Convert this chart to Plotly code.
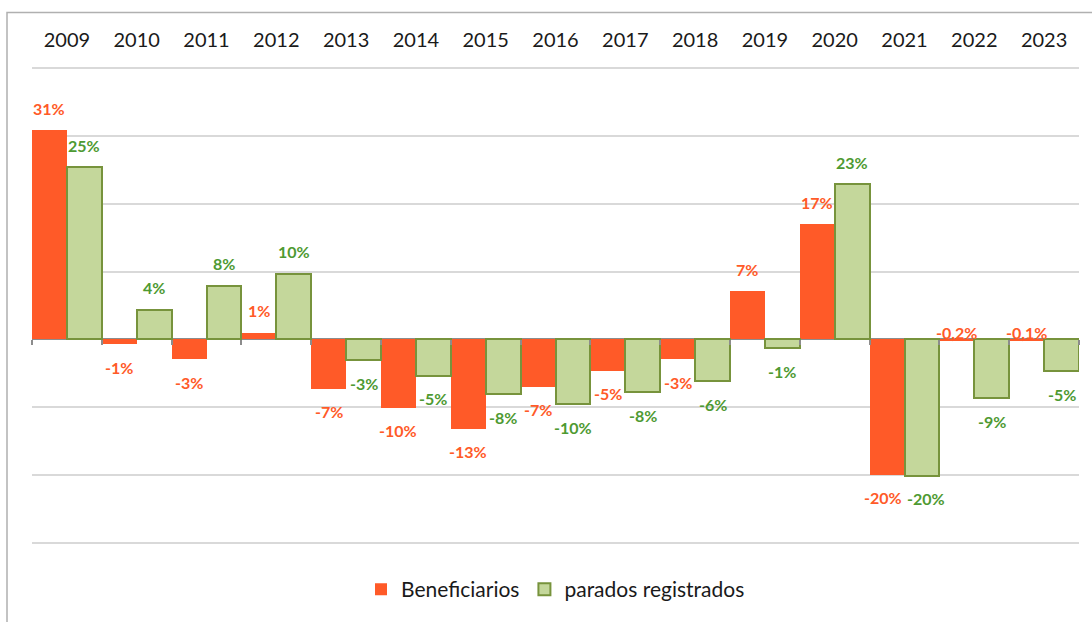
import plotly.graph_objects as go

years = ["2009", "2010", "2011", "2012", "2013", "2014", "2015", "2016",
         "2017", "2018", "2019", "2020", "2021", "2022", "2023"]
beneficiarios = [30.9, -0.7, -2.9, 1.0, -7.3, -10.1, -13.2, -7.0, -4.6, -2.9, 7.1, 17.0, -20.0, -0.2, -0.1]
parados = [25.4, 4.4, 7.9, 9.7, -3.1, -5.4, -8.1, -9.6, -7.8, -6.2, -1.3, 22.9, -20.1, -8.7, -4.7]

RED = "#FF5A28"
GREEN_FILL = "#C4D79B"
GREEN_LINE = "#77933C"
RED_TXT = "#FF5A28"
GREEN_TXT = "#4E9A32"
FONT = "Lato"


def fmt(v):
    if abs(v) < 0.5:
        return f"{v:.1f}".replace(".", ",") + "%"
    return f"{round(v):.0f}%"


fig = go.Figure()
fig.add_trace(go.Bar(x=years, y=beneficiarios, name="Beneficiarios",
                     marker=dict(color=RED, line=dict(width=0)),
                     offsetgroup="a", hoverinfo="skip"))
fig.add_trace(go.Bar(x=years, y=parados, name="parados registrados",
                     marker=dict(color=GREEN_FILL, line=dict(color=GREEN_LINE, width=2)),
                     offsetgroup="b", hoverinfo="skip"))
# invisible trace for top category labels
fig.add_trace(go.Scatter(x=years, y=[0] * len(years), xaxis="x2", mode="markers",
                         marker=dict(opacity=0), showlegend=False, hoverinfo="skip"))

Y0, Y1 = -30.5, 40.5
TOP, BOT = 65, 72
ph = 622 - TOP - BOT
pxu = ph / (Y1 - Y0)
bw = 1047 / 15 / 2


def yshift(v):
    if abs(v) < 0.5:
        return 8
    return 22 if v >= 0 else -23


annotations = []
for i, (a, b) in enumerate(zip(beneficiarios, parados)):
    ya = a * pxu + yshift(a)
    yb = b * pxu + yshift(b)
    push = 4 if abs(ya - yb) < 14 else 0
    for v, color, xs in ((a, RED_TXT, -bw / 2 - push), (b, GREEN_TXT, bw / 2 + push)):
        annotations.append(dict(x=i, y=v, xref="x", yref="y", text=fmt(v), showarrow=False,
                                xshift=xs, yshift=yshift(v),
                                font=dict(family=FONT, size=16, color=color, weight="bold")))

zero_pos = -Y0 / (Y1 - Y0)

fig.update_layout(
    width=1092, height=622,
    margin=dict(l=32, r=13, t=TOP, b=BOT),
    paper_bgcolor="white", plot_bgcolor="white",
    barmode="group", bargap=0, bargroupgap=0,
    font=dict(family=FONT, color="#1a1a1a"),
    showlegend=True,
    legend=dict(orientation="h", x=0.5, xanchor="center", y=(622 - BOT - 594) / ph, yanchor="middle",
                font=dict(family=FONT, size=21, color="#1a1a1a"),
                traceorder="normal"),
    xaxis=dict(type="category", anchor="free", position=zero_pos, showticklabels=False,
               ticks="outside", tickson="boundaries", ticklen=5, tickwidth=2, tickcolor="#8C8C8C",
               showline=False, showgrid=False, zeroline=False, range=[-0.5, 14.5],
               automargin=False),
    xaxis2=dict(type="category", overlaying="x", side="top", matches="x", anchor="y",
                showticklabels=True, ticks="", showline=False, showgrid=False, zeroline=False,
                tickfont=dict(family=FONT, size=20, color="#1a1a1a"), ticklabelstandoff=13,
                automargin=False),
    yaxis=dict(range=[Y0, Y1], dtick=10, tick0=0, showticklabels=False, showgrid=True,
               gridcolor="#D9D9D9", gridwidth=1.5, zeroline=True, zerolinecolor="#8C8C8C",
               zerolinewidth=2, showline=False, automargin=False),
    annotations=annotations,
    shapes=[dict(type="rect", xref="paper", yref="paper",
                 x0=(7 - 32) / 1047, x1=1.05, y0=-0.3, y1=(622 - BOT - 12) / ph,
                 line=dict(color="#B0B0B0", width=1.5), fillcolor="rgba(0,0,0,0)", layer="below")],
)

fig.write_html("out.html", config={"displayModeBar": False},
               post_script="document.body.style.margin='0';")
